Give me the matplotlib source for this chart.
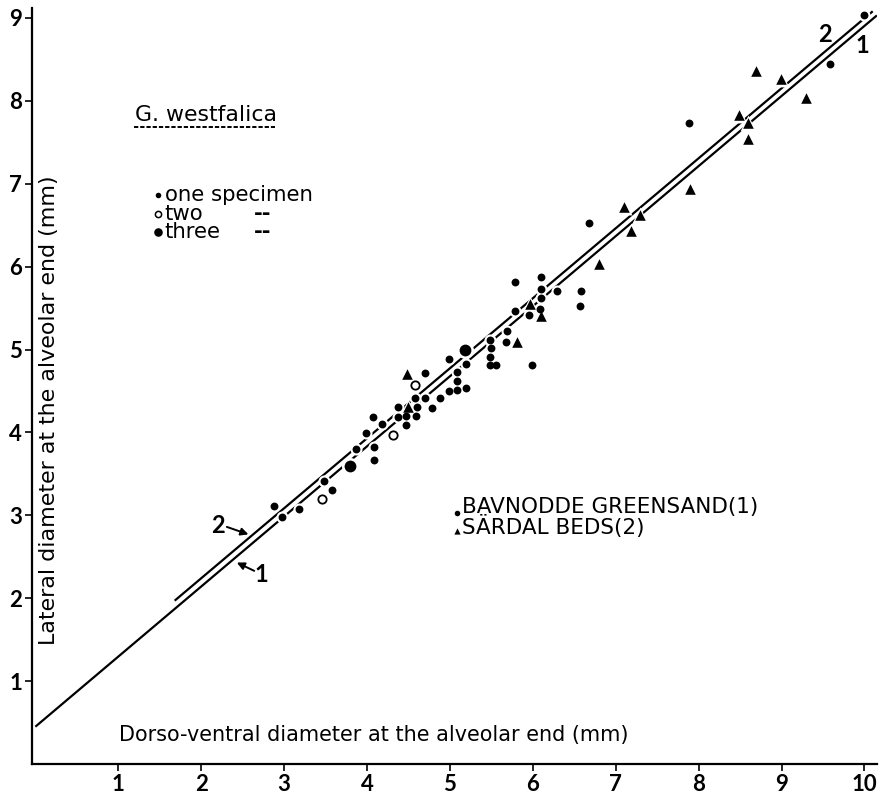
import matplotlib
matplotlib.use("Agg")
import matplotlib.pyplot as plt

plt.rcParams['font.family'] = ['DejaVu Sans']

# ---- data ----
one_x = [2.88, 2.97, 3.18, 3.48, 3.58, 3.87, 3.99, 4.07, 4.09, 4.09, 4.18, 4.37, 4.37,
         4.47, 4.47, 4.59, 4.60, 4.58, 4.70, 4.70, 4.78, 4.88, 4.99, 5.08, 5.19, 5.08,
         5.08, 4.99, 5.20, 5.48, 5.50, 5.48, 5.48, 5.56, 5.68, 5.69, 5.99, 5.79, 5.79,
         5.96, 6.10, 6.10, 6.10, 6.09, 6.29, 6.58, 6.57, 6.68, 7.88, 9.59, 9.99]
one_y = [3.11, 2.98, 3.08, 3.41, 3.30, 3.80, 3.99, 4.18, 3.82, 3.67, 4.10, 4.31, 4.18,
         4.20, 4.09, 4.20, 4.31, 4.41, 4.72, 4.42, 4.30, 4.41, 4.50, 4.51, 4.53, 4.62,
         4.73, 4.89, 4.82, 5.12, 5.02, 4.91, 4.81, 4.81, 5.09, 5.22, 4.81, 5.82, 5.46,
         5.42, 5.88, 5.73, 5.62, 5.49, 5.70, 5.71, 5.53, 6.53, 7.73, 8.44, 9.04]
two_x = [3.46, 4.31, 4.58]
two_y = [3.20, 3.97, 4.57]
three_x = [3.80, 5.18]
three_y = [3.59, 5.00]
tri_x = [4.49, 4.48, 5.81, 5.97, 6.10, 6.80, 7.10, 7.19, 7.29, 7.90, 8.59, 8.60, 8.49,
         8.69, 8.99, 9.30]
tri_y = [4.31, 4.71, 5.09, 5.55, 5.41, 6.03, 6.72, 6.43, 6.62, 6.94, 7.54, 7.73, 7.83,
         8.36, 8.26, 8.04]

line1_x = [0.0, 10.15]
line1_y = [0.45, 9.03]
line2_x = [1.68, 10.10]
line2_y = [1.97, 9.08]

x_ticks = [1, 2, 3, 4, 5, 6, 7, 8, 9, 10]
y_ticks = [1, 2, 3, 4, 5, 6, 7, 8, 9]

# ---- figure ----
fig = plt.figure(figsize=(8.85, 7.97), dpi=100)
ax = fig.add_axes([0.0362, 0.0414, 0.9546, 0.9486])
ax.set_xlim(-0.04, 10.15)
ax.set_ylim(0, 9.12)
renderer = fig.canvas.get_renderer()


def fit(t, target_px, horizontal=True):
    """Scale a text's font size so that its rendered extent matches target_px."""
    for _ in range(3):
        bb = t.get_window_extent(renderer=renderer)
        cur = bb.width if horizontal else bb.height
        if cur > 0:
            t.set_fontsize(t.get_fontsize() * target_px / cur)
    return t


for s in ['top', 'right']:
    ax.spines[s].set_visible(False)
for s in ['left', 'bottom']:
    ax.spines[s].set_linewidth(1.6)

ax.set_xticks(x_ticks)
ax.set_yticks(y_ticks)
tick_font = dict(fontsize=16, fontweight='bold', family=['Lato', 'DejaVu Sans'])
ax.set_xticklabels([str(t) for t in x_ticks], **tick_font)
ax.set_yticklabels([str(t) for t in y_ticks], **tick_font)
ax.tick_params(direction='out', length=5, width=1.2, pad=2)

# regression lines
ax.plot(line1_x, line1_y, color='black', lw=1.6, zorder=2, solid_capstyle='butt')
ax.plot(line2_x, line2_y, color='black', lw=1.6, zorder=2, solid_capstyle='butt')

# white halos break the lines near points
halo = dict(color='white', zorder=3, linewidths=0)
ax.scatter(one_x, one_y, s=75, marker='o', **halo)
ax.scatter(two_x, two_y, s=95, marker='o', **halo)
ax.scatter(three_x, three_y, s=150, marker='o', **halo)
ax.scatter(tri_x, tri_y, s=130, marker='^', **halo)

ax.scatter(one_x, one_y, s=32, marker='o', color='black', linewidths=0, zorder=4)
ax.scatter(two_x, two_y, s=36, marker='o', facecolors='white', edgecolors='black',
           linewidths=1.3, zorder=4)
ax.scatter(three_x, three_y, s=72, marker='o', color='black', linewidths=0, zorder=4)
ax.scatter(tri_x, tri_y, s=58, marker='^', color='black', linewidths=0, zorder=4)

# line labels with arrows
arrow = dict(arrowstyle='-|>', color='black', lw=1.4, shrinkA=0, shrinkB=0,
             mutation_scale=11)
ax.annotate('', xy=(2.57, 2.77), xytext=(2.31, 2.86), arrowprops=arrow)
ax.annotate('', xy=(2.43, 2.43), xytext=(2.64, 2.33), arrowprops=arrow)
lab_font = dict(fontsize=17, fontweight='bold', family=['Lato', 'DejaVu Sans'],
                ha='center', va='center')
ax.text(2.20, 2.88, '2', **lab_font)
ax.text(2.72, 2.29, '1', **lab_font)
ax.text(9.52, 8.80, '2', **lab_font)
ax.text(9.97, 8.67, '1', **lab_font)

# species title with dashed underline
t = ax.text(1.20, 7.83, 'G. westfalica', fontsize=14, ha='left', va='center')
fit(t, 142)
ax.plot([1.19, 2.89], [7.68, 7.68], color='black', lw=1.4, ls=(0, (2.2, 1.0)))

# specimen-count legend
leg_y = [6.86, 6.64, 6.42]
leg_txt = ['one specimen', 'two', 'three']
ax.scatter([1.48], [leg_y[0]], s=16, color='black', linewidths=0)
ax.scatter([1.48], [leg_y[1]], s=20, facecolors='white', edgecolors='black', linewidths=1.1)
ax.scatter([1.48], [leg_y[2]], s=38, color='black', linewidths=0)
legs = []
for yy, txt in zip(leg_y, leg_txt):
    legs.append(ax.text(1.56, yy, txt, fontsize=14, ha='left', va='center'))
fit(legs[0], 148)
for tt in legs[1:]:
    tt.set_fontsize(legs[0].get_fontsize())
for yy in leg_y[1:]:
    ax.text(2.63, yy, '--', fontsize=legs[0].get_fontsize(), fontweight='bold',
            ha='left', va='center')

# locality legend
ax.scatter([5.09], [3.03], s=16, color='black', linewidths=0)
ax.scatter([5.09], [2.81], s=20, marker='^', color='black', linewidths=0)
t1 = ax.text(5.15, 3.10, 'BAVNODDE GREENSAND(1)', fontsize=14, ha='left', va='center')
fit(t1, 296)
ax.text(5.15, 2.86, 'SÄRDAL BEDS(2)', fontsize=t1.get_fontsize(), ha='left', va='center')

# axis labels placed inside the axes
xl = ax.text(1.01, 0.35, 'Dorso-ventral diameter at the alveolar end (mm)', fontsize=14,
             ha='left', va='center')
fit(xl, 509)
yl = ax.text(0.17, 4.27, 'Lateral diameter at the alveolar end (mm)', fontsize=14,
             ha='center', va='center', rotation=90)
fit(yl, 470, horizontal=False)

fig.savefig('out.png', dpi=100)
